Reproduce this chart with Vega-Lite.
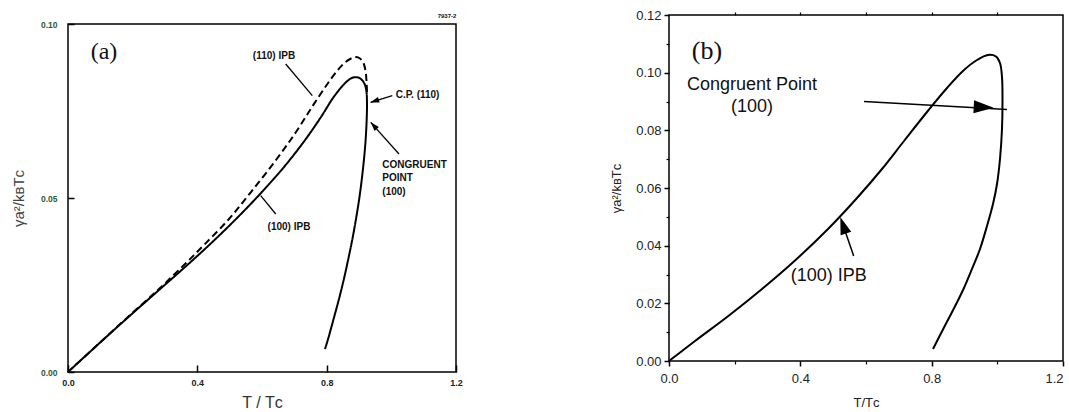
{
  "$schema": "https://vega.github.io/schema/vega-lite/v6.json",
  "background": "white",
  "padding": {"left": 10, "top": 8, "right": 0, "bottom": 0},
  "spacing": 145,
  "config": {
    "view": {"stroke": "black", "strokeWidth": 1.5},
    "axis": {"grid": false, "domain": false}
  },
  "datasets": {
    "bcurve": [
      {"i": 0, "x": 0, "y": 0},
      {"i": 1, "x": 0.0792, "y": 0.00694},
      {"i": 2, "x": 0.1827, "y": 0.01578},
      {"i": 3, "x": 0.2833, "y": 0.02497},
      {"i": 4, "x": 0.3838, "y": 0.03486},
      {"i": 5, "x": 0.4843, "y": 0.04578},
      {"i": 6, "x": 0.5726, "y": 0.05653},
      {"i": 7, "x": 0.6487, "y": 0.06659},
      {"i": 8, "x": 0.7157, "y": 0.07630},
      {"i": 9, "x": 0.7858, "y": 0.08636},
      {"i": 10, "x": 0.8467, "y": 0.09468},
      {"i": 11, "x": 0.8985, "y": 0.10092},
      {"i": 12, "x": 0.9381, "y": 0.10439},
      {"i": 13, "x": 0.9716, "y": 0.10613},
      {"i": 14, "x": 0.9959, "y": 0.10561},
      {"i": 15, "x": 1.0081, "y": 0.10335},
      {"i": 16, "x": 1.0142, "y": 0.09850},
      {"i": 17, "x": 1.0157, "y": 0.09087},
      {"i": 18, "x": 1.0142, "y": 0.08046},
      {"i": 19, "x": 1.0081, "y": 0.07006},
      {"i": 20, "x": 0.9990, "y": 0.06139},
      {"i": 21, "x": 0.9868, "y": 0.05445},
      {"i": 22, "x": 0.9685, "y": 0.04682},
      {"i": 23, "x": 0.9472, "y": 0.03884},
      {"i": 24, "x": 0.9228, "y": 0.03191},
      {"i": 25, "x": 0.8970, "y": 0.02497},
      {"i": 26, "x": 0.8700, "y": 0.01873},
      {"i": 27, "x": 0.8430, "y": 0.01283},
      {"i": 28, "x": 0.8041, "y": 0.00416}
    ]
  },
  "hconcat": [
    {
      "spacing": 0,
      "vconcat": [
        {
          "width": 388,
          "height": 2,
          "view": {"stroke": null},
          "data": {"values": [{"x": 1.1722, "label": "7937-2"}]},
          "mark": {"type": "text", "font": "Liberation Sans", "fontWeight": "bold", "fontSize": 6, "color": "#111", "align": "center", "baseline": "middle"},
          "encoding": {
            "x": {"field": "x", "type": "quantitative", "scale": {"domain": [0, 1.2], "nice": false, "zero": false}, "axis": null},
            "text": {"field": "label"}
          }
        },
        {
          "width": 388,
          "height": 348,
          "layer": [
            {
              "data": {"values": [
                {"series": "(100) IPB", "i": 0, "x": 0, "y": 0},
                {"series": "(100) IPB", "i": 1, "x": 0.0959, "y": 0.00819},
                {"series": "(100) IPB", "i": 2, "x": 0.1887, "y": 0.01595},
                {"series": "(100) IPB", "i": 3, "x": 0.2814, "y": 0.02356},
                {"series": "(100) IPB", "i": 4, "x": 0.3742, "y": 0.03118},
                {"series": "(100) IPB", "i": 5, "x": 0.4515, "y": 0.03779},
                {"series": "(100) IPB", "i": 6, "x": 0.5289, "y": 0.04483},
                {"series": "(100) IPB", "i": 7, "x": 0.5969, "y": 0.05144},
                {"series": "(100) IPB", "i": 8, "x": 0.6680, "y": 0.05891},
                {"series": "(100) IPB", "i": 9, "x": 0.7299, "y": 0.06624},
                {"series": "(100) IPB", "i": 10, "x": 0.7825, "y": 0.07328},
                {"series": "(100) IPB", "i": 11, "x": 0.8196, "y": 0.07874},
                {"series": "(100) IPB", "i": 12, "x": 0.8474, "y": 0.08204},
                {"series": "(100) IPB", "i": 13, "x": 0.8660, "y": 0.08377},
                {"series": "(100) IPB", "i": 14, "x": 0.8814, "y": 0.08463},
                {"series": "(100) IPB", "i": 15, "x": 0.8969, "y": 0.08463},
                {"series": "(100) IPB", "i": 16, "x": 0.9093, "y": 0.08391},
                {"series": "(100) IPB", "i": 17, "x": 0.9186, "y": 0.08247},
                {"series": "(100) IPB", "i": 18, "x": 0.9232, "y": 0.08046},
                {"series": "(100) IPB", "i": 19, "x": 0.9247, "y": 0.07701},
                {"series": "(100) IPB", "i": 20, "x": 0.9238, "y": 0.07270},
                {"series": "(100) IPB", "i": 21, "x": 0.9207, "y": 0.06696},
                {"series": "(100) IPB", "i": 22, "x": 0.9155, "y": 0.06121},
                {"series": "(100) IPB", "i": 23, "x": 0.9087, "y": 0.05546},
                {"series": "(100) IPB", "i": 24, "x": 0.9006, "y": 0.04971},
                {"series": "(100) IPB", "i": 25, "x": 0.8907, "y": 0.04397},
                {"series": "(100) IPB", "i": 26, "x": 0.8796, "y": 0.03822},
                {"series": "(100) IPB", "i": 27, "x": 0.8669, "y": 0.03247},
                {"series": "(100) IPB", "i": 28, "x": 0.8533, "y": 0.02672},
                {"series": "(100) IPB", "i": 29, "x": 0.8381, "y": 0.02098},
                {"series": "(100) IPB", "i": 30, "x": 0.8214, "y": 0.01523},
                {"series": "(100) IPB", "i": 31, "x": 0.8044, "y": 0.00948},
                {"series": "(100) IPB", "i": 32, "x": 0.7948, "y": 0.00661},
                {"series": "(110) IPB", "i": 0, "x": 0, "y": 0},
                {"series": "(110) IPB", "i": 1, "x": 0.0959, "y": 0.00819},
                {"series": "(110) IPB", "i": 2, "x": 0.1887, "y": 0.01609},
                {"series": "(110) IPB", "i": 3, "x": 0.2814, "y": 0.02385},
                {"series": "(110) IPB", "i": 4, "x": 0.3588, "y": 0.03075},
                {"series": "(110) IPB", "i": 5, "x": 0.4206, "y": 0.03649},
                {"series": "(110) IPB", "i": 6, "x": 0.4979, "y": 0.04397},
                {"series": "(110) IPB", "i": 7, "x": 0.5660, "y": 0.05172},
                {"series": "(110) IPB", "i": 8, "x": 0.6433, "y": 0.06092},
                {"series": "(110) IPB", "i": 9, "x": 0.7052, "y": 0.06897},
                {"series": "(110) IPB", "i": 10, "x": 0.7546, "y": 0.07615},
                {"series": "(110) IPB", "i": 11, "x": 0.7979, "y": 0.08218},
                {"series": "(110) IPB", "i": 12, "x": 0.8320, "y": 0.08650},
                {"series": "(110) IPB", "i": 13, "x": 0.8567, "y": 0.08894},
                {"series": "(110) IPB", "i": 14, "x": 0.8753, "y": 0.09009},
                {"series": "(110) IPB", "i": 15, "x": 0.8907, "y": 0.09052},
                {"series": "(110) IPB", "i": 16, "x": 0.9031, "y": 0.09009},
                {"series": "(110) IPB", "i": 17, "x": 0.9139, "y": 0.08879},
                {"series": "(110) IPB", "i": 18, "x": 0.9201, "y": 0.08650},
                {"series": "(110) IPB", "i": 19, "x": 0.9232, "y": 0.08362},
                {"series": "(110) IPB", "i": 20, "x": 0.9247, "y": 0.08046}
              ]},
              "mark": {"type": "line", "color": "black", "strokeWidth": 2, "interpolate": "catmull-rom"},
              "encoding": {
                "x": {"field": "x", "type": "quantitative",
                  "scale": {"domain": [0, 1.2], "nice": false, "zero": false},
                  "axis": {"values": [0, 0.4, 0.8, 1.2], "format": ".1f", "labelFlush": false,
                    "labelFont": "Liberation Sans", "labelFontSize": 9, "labelFontWeight": "bold", "labelColor": "#222",
                    "tickSize": -7, "tickWidth": 1.5, "tickColor": "black", "labelPadding": 13,
                    "title": "T / Tᴄ", "titleFont": "Liberation Sans, DejaVu Sans", "titleFontSize": 16,
                    "titleFontWeight": "normal", "titleColor": "#333", "titlePadding": 7}},
                "y": {"field": "y", "type": "quantitative",
                  "scale": {"domain": [0, 0.1], "nice": false},
                  "axis": {"values": [0, 0.05, 0.1], "format": ".2f",
                    "labelFont": "Liberation Sans", "labelFontSize": 8.5, "labelFontWeight": "bold", "labelColor": "#2e5a2e",
                    "tickSize": -6, "tickWidth": 1.5, "tickColor": "black", "labelPadding": 17,
                    "title": "γa²/kʙTᴄ", "titleFont": "Liberation Sans, DejaVu Sans", "titleFontSize": 15,
                    "titleFontWeight": "normal", "titleColor": "#444", "titlePadding": 14}},
                "detail": {"field": "series", "type": "nominal"},
                "strokeDash": {"field": "series", "type": "nominal",
                  "scale": {"domain": ["(100) IPB", "(110) IPB"], "range": [[1, 0], [7, 4]]}, "legend": null},
                "order": {"field": "i", "type": "quantitative"}
              }
            },
            {
              "data": {"values": [
                {"x": 0.6733, "y": 0.0885, "x2": 0.7556, "y2": 0.0794},
                {"x": 1.0030, "y": 0.0794, "x2": 0.9362, "y2": 0.0775},
                {"x": 1.0237, "y": 0.06264, "x2": 0.9362, "y2": 0.07175},
                {"x": 0.6424, "y": 0.0454, "x2": 0.5960, "y2": 0.05066}
              ]},
              "mark": {"type": "rule", "color": "black", "strokeWidth": 1.3},
              "encoding": {
                "x": {"field": "x", "type": "quantitative"},
                "y": {"field": "y", "type": "quantitative"},
                "x2": {"field": "x2"},
                "y2": {"field": "y2"}
              }
            },
            {
              "data": {"values": [{"x": 0.9479, "y": 0.07785}]},
              "mark": {"type": "point", "shape": "M-0.65,1L0,-1L0.65,1Z", "filled": true, "color": "black", "opacity": 1, "size": 81, "angle": -107},
              "encoding": {"x": {"field": "x", "type": "quantitative"}, "y": {"field": "y", "type": "quantitative"}}
            },
            {
              "data": {"values": [{"x": 0.9455, "y": 0.07078}]},
              "mark": {"type": "point", "shape": "M-0.65,1L0,-1L0.65,1Z", "filled": true, "color": "black", "opacity": 1, "size": 81, "angle": -42},
              "encoding": {"x": {"field": "x", "type": "quantitative"}, "y": {"field": "y", "type": "quantitative"}}
            },
            {
              "data": {"values": [
                {"x": 0.6371, "y": 0.0909, "label": "(110) IPB"},
                {"x": 0.6835, "y": 0.04176, "label": "(100) IPB"}
              ]},
              "mark": {"type": "text", "font": "Liberation Sans", "fontWeight": "bold", "fontSize": 10, "color": "#111", "align": "center", "baseline": "middle"},
              "encoding": {"x": {"field": "x", "type": "quantitative"}, "y": {"field": "y", "type": "quantitative"}, "text": {"field": "label"}}
            },
            {
              "data": {"values": [
                {"x": 1.0135, "y": 0.0796, "label": "C.P. (110)"},
                {"x": 0.9721, "y": 0.0596, "label": "CONGRUENT"},
                {"x": 0.9721, "y": 0.0557, "label": "POINT"},
                {"x": 0.9721, "y": 0.0518, "label": "(100)"}
              ]},
              "mark": {"type": "text", "font": "Liberation Sans", "fontWeight": "bold", "fontSize": 10, "color": "#111", "align": "left", "baseline": "middle"},
              "encoding": {"x": {"field": "x", "type": "quantitative"}, "y": {"field": "y", "type": "quantitative"}, "text": {"field": "label"}}
            },
            {
              "data": {"values": [{"x": 0.1113, "y": 0.0920, "label": "(a)"}]},
              "mark": {"type": "text", "font": "Liberation Serif", "fontSize": 24, "color": "#111", "align": "center", "baseline": "middle"},
              "encoding": {"x": {"field": "x", "type": "quantitative"}, "y": {"field": "y", "type": "quantitative"}, "text": {"field": "label"}}
            }
          ]
        }
      ]
    },
    {
      "width": 394,
      "height": 346,
      "resolve": {"axis": {"x": "independent", "y": "independent"}},
      "layer": [
        {
          "data": {"name": "bcurve"},
          "mark": {"type": "line", "color": "black", "strokeWidth": 2, "interpolate": "catmull-rom"},
          "encoding": {
            "x": {"field": "x", "type": "quantitative",
              "scale": {"domain": [0, 1.2], "nice": false, "zero": false},
              "axis": {"orient": "bottom", "values": [0, 0.4, 0.8, 1.2], "format": ".1f", "labelFlush": false,
                "labelAlign": {"expr": "datum.value > 1.1 ? 'right' : 'center'"},
                "labelFont": "Liberation Sans", "labelFontSize": 13, "labelColor": "#222",
                "tickSize": 5, "tickWidth": 1.5, "tickColor": "black", "labelPadding": 6,
                "title": "T/Tᴄ", "titleFont": "Liberation Sans, DejaVu Sans", "titleFontSize": 13,
                "titleFontWeight": "normal", "titleColor": "#222", "titlePadding": 11}},
            "y": {"field": "y", "type": "quantitative",
              "scale": {"domain": [0, 0.12], "nice": false},
              "axis": {"orient": "left", "values": [0, 0.02, 0.04, 0.06, 0.08, 0.1, 0.12], "format": ".2f",
                "labelFont": "Liberation Sans", "labelFontSize": 13, "labelColor": "#222",
                "tickSize": 5, "tickWidth": 1.5, "tickColor": "black", "labelPadding": 3,
                "title": "γa²/kʙTᴄ", "titleFont": "Liberation Sans, DejaVu Sans", "titleFontSize": 13,
                "titleFontWeight": "normal", "titleColor": "#222", "titlePadding": 12}},
            "order": {"field": "i", "type": "quantitative"}
          }
        },
        {
          "data": {"name": "bcurve"},
          "mark": {"type": "point", "opacity": 0},
          "encoding": {
            "x": {"field": "x", "type": "quantitative",
              "axis": {"orient": "bottom", "values": [0.2, 0.6, 1.0], "labels": false, "tickSize": 3, "tickWidth": 1.2, "tickColor": "black", "title": null}},
            "y": {"field": "y", "type": "quantitative",
              "axis": {"orient": "left", "values": [0.01, 0.03, 0.05, 0.07, 0.09, 0.11], "labels": false, "tickSize": 3, "tickWidth": 1.2, "tickColor": "black", "title": null}}
          }
        },
        {
          "data": {"name": "bcurve"},
          "mark": {"type": "point", "opacity": 0},
          "encoding": {
            "x": {"field": "x", "type": "quantitative",
              "axis": {"orient": "top", "values": [0.2, 0.4, 0.6, 0.8, 1.0], "labels": false, "tickSize": 3, "tickWidth": 1.2, "tickColor": "black", "title": null}},
            "y": {"field": "y", "type": "quantitative", "axis": null}
          }
        },
        {
          "data": {"values": [
            {"x": 0.5939, "y": 0.0900, "x2": 1.0294, "y2": 0.08723},
            {"x": 0.5625, "y": 0.03642, "x2": 0.5269, "y2": 0.04821}
          ]},
          "mark": {"type": "rule", "color": "black", "strokeWidth": 1.5},
          "encoding": {
            "x": {"field": "x", "type": "quantitative", "axis": null},
            "y": {"field": "y", "type": "quantitative", "axis": null},
            "x2": {"field": "x2"},
            "y2": {"field": "y2"}
          }
        },
        {
          "data": {"values": [{"x": 0.9585, "y": 0.08799}]},
          "mark": {"type": "point", "shape": "M-1,-0.65L1,0L-1,0.65Z", "filled": true, "color": "black", "opacity": 1, "size": 400, "angle": 3},
          "encoding": {"x": {"field": "x", "type": "quantitative", "axis": null}, "y": {"field": "y", "type": "quantitative", "axis": null}}
        },
        {
          "data": {"values": [{"x": 0.5303, "y": 0.04706}]},
          "mark": {"type": "point", "shape": "M-0.65,1L0,-1L0.65,1Z", "filled": true, "color": "black", "opacity": 1, "size": 300, "angle": -19},
          "encoding": {"x": {"field": "x", "type": "quantitative", "axis": null}, "y": {"field": "y", "type": "quantitative", "axis": null}}
        },
        {
          "data": {"values": [
            {"x": 0.2528, "y": 0.0958, "label": "Congruent Point"},
            {"x": 0.2528, "y": 0.0880, "label": "(100)"},
            {"x": 0.4864, "y": 0.02937, "label": "(100) IPB"}
          ]},
          "mark": {"type": "text", "font": "Liberation Sans", "fontSize": 18, "color": "#111", "align": "center", "baseline": "middle"},
          "encoding": {"x": {"field": "x", "type": "quantitative", "axis": null}, "y": {"field": "y", "type": "quantitative", "axis": null}, "text": {"field": "label"}}
        },
        {
          "data": {"values": [{"x": 0.1157, "y": 0.1075, "label": "(b)"}]},
          "mark": {"type": "text", "font": "Liberation Serif", "fontSize": 26, "color": "#111", "align": "center", "baseline": "middle"},
          "encoding": {"x": {"field": "x", "type": "quantitative", "axis": null}, "y": {"field": "y", "type": "quantitative", "axis": null}, "text": {"field": "label"}}
        }
      ]
    }
  ]
}
